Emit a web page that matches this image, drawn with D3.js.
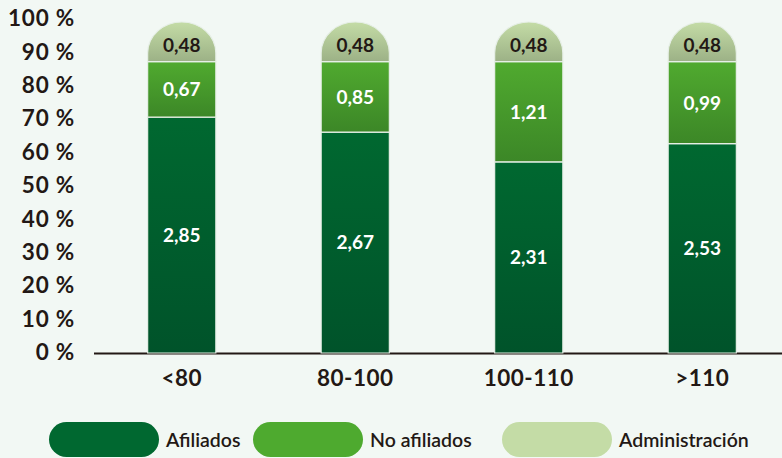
<!DOCTYPE html>
<html>
<head>
<meta charset="utf-8">
<script src="https://cdn.jsdelivr.net/npm/d3@7"></script>
<style>
html,body{margin:0;padding:0;background:#f2f8f4;}
svg{display:block;font-family:Lato,"Open Sans",sans-serif;}
</style>
</head>
<body>
<svg id="chart" width="782" height="458"></svg>
<script>
const categories = ["<80", "80-100", "100-110", ">110"];
const afiliados = [2.85, 2.67, 2.31, 2.53];
const noAfiliados = [0.67, 0.85, 1.21, 0.99];
const administracion = [0.48, 0.48, 0.48, 0.48];
const yTicks = [0, 10, 20, 30, 40, 50, 60, 70, 80, 90, 100];
const seriesNames = ["Afiliados", "No afiliados", "Administración"];

const rows = categories.map((c, i) => ({
  cat: c,
  "Afiliados": afiliados[i],
  "No afiliados": noAfiliados[i],
  "Administración": administracion[i]
}));

const svg = d3.select("#chart");
const W = 782, H = 458;
svg.append("rect").attr("width", W).attr("height", H).attr("fill", "#f2f8f4");

const x = d3.scaleBand().domain(categories).range([95, 789]).paddingInner(0.607).paddingOuter(0.3035);
const y = d3.scaleLinear().domain([0, 1]).range([353, 22]);
const yLab = d3.scaleLinear().domain([0, 100]).range([352, 18]);

const stack = d3.stack().keys(seriesNames).offset(d3.stackOffsetExpand);
const series = stack(rows);

const defs = svg.append("defs");
const grads = [
  ["g0", "#006830", "#00532a"],
  ["g1", "#50aa2f", "#3c8727"],
  ["g2", "#c4dca6", "#9cb186"]
];
grads.forEach(([id, a, b]) => {
  const g = defs.append("linearGradient").attr("id", id).attr("x1", 0).attr("y1", 0).attr("x2", 0).attr("y2", 1);
  g.append("stop").attr("offset", "0%").attr("stop-color", a);
  g.append("stop").attr("offset", "100%").attr("stop-color", b);
});
const legendColors = ["#006830", "#4eaa2f", "#c4dca6"];
const labelColors = ["#ffffff", "#ffffff", "#231815"];

const fmt = v => d3.format(".2f")(v).replace(".", ",");

// Baseline
svg.append("line").attr("x1", 94).attr("x2", 782).attr("y1", y(0) + 0.5).attr("y2", y(0) + 0.5)
  .attr("stroke", "#231815").attr("stroke-width", 2.2);

// Y axis labels
svg.append("g").selectAll("text").data(yTicks).join("text")
  .attr("x", 75).attr("y", d => yLab(d)).attr("dy", "0.36em")
  .attr("text-anchor", "end").attr("font-size", 22.5).attr("font-weight", 700)
  .attr("letter-spacing", 0.8)
  .attr("fill", "#231815").text(d => d + " %");

// Bars
series.forEach((s, si) => {
  const g = svg.append("g");
  g.selectAll("path").data(s).join("path")
    .attr("d", d => {
      const x0 = x(d.data.cat), x1 = x0 + x.bandwidth();
      const yb = y(d[0]), yt = y(d[1]);
      if (si === seriesNames.length - 1) {
        const rx = x.bandwidth() / 2, ry = 31;
        return `M${x0},${yb}L${x0},${yt + ry}A${rx},${ry} 0 0 1 ${x1},${yt + ry}L${x1},${yb}Z`;
      }
      return `M${x0},${yb}L${x0},${yt}L${x1},${yt}L${x1},${yb}Z`;
    })
    .attr("fill", `url(#g${si})`)
    .attr("stroke", "#e6efe6").attr("stroke-width", 1.2);
  g.selectAll("text").data(s).join("text")
    .attr("x", d => x(d.data.cat) + x.bandwidth() / 2)
    .attr("y", d => (y(d[0]) + y(d[1])) / 2 + (si === 2 ? 3 : 0))
    .attr("dy", "0.36em").attr("text-anchor", "middle")
    .attr("font-size", 19).attr("font-weight", 700)
    .attr("fill", labelColors[si])
    .text(d => fmt(d.data[seriesNames[si]]));
});

// Category labels
svg.append("g").selectAll("text").data(categories).join("text")
  .attr("x", d => x(d) + x.bandwidth() / 2).attr("y", 378).attr("dy", "0.36em")
  .attr("text-anchor", "middle").attr("font-size", 22.5).attr("font-weight", 700)
  .attr("letter-spacing", 0.5)
  .attr("fill", "#231815").text(d => d);

// Legend
const legendX = [49, 253, 502];
const lg = svg.append("g");
seriesNames.forEach((n, i) => {
  lg.append("rect").attr("x", legendX[i]).attr("y", 422).attr("width", 110).attr("height", 35)
    .attr("rx", 17.5).attr("fill", legendColors[i]);
  lg.append("text").attr("x", legendX[i] + 117).attr("y", 439.5).attr("dy", "0.36em")
    .attr("font-size", 19.5).attr("font-weight", 600).attr("fill", "#231815").text(n);
});
</script>
</body>
</html>
